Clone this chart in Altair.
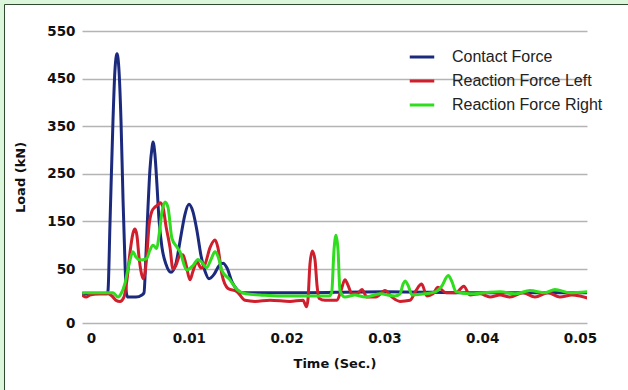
import altair as alt
import pandas as pd

# time in milliseconds, load in kN
contact_force = [(-0.9, 27), (0.92, 27), (1.64, 27), (1.74, 30), (1.94, 144), (2.25, 363), (2.45, 468),
                 (2.66, 502), (2.86, 468), (3.07, 360), (3.27, 200), (3.48, 60), (3.63, 27), (3.78, 24),
                 (4.6, 24), (5.21, 26), (5.42, 28), (5.62, 80), (5.83, 180), (6.03, 260), (6.24, 305),
                 (6.34, 317), (6.54, 290), (6.75, 225), (6.95, 155), (7.26, 95), (7.67, 60), (8.18, 47),
                 (8.69, 62), (9.2, 120), (9.61, 165), (10.02, 186), (10.43, 170), (10.84, 130), (11.25, 78),
                 (11.66, 48), (12.07, 41), (12.58, 45), (13.09, 57), (13.5, 62), (13.91, 52), (14.42, 38),
                 (14.93, 31), (15.44, 28), (20.0, 28), (30.0, 29), (40.0, 28), (50.8, 28)]

reaction_left = [(-0.9, 26), (-0.5, 24), (-0.1, 26), (0.92, 27), (1.74, 27), (2.15, 25), (2.56, 21),
                 (2.97, 20), (3.37, 24), (3.68, 40), (3.99, 85), (4.29, 125), (4.5, 134), (4.7, 120),
                 (4.91, 75), (5.11, 48), (5.32, 41), (5.52, 46), (5.73, 85), (5.93, 140), (6.24, 172),
                 (6.54, 180), (6.85, 185), (7.06, 189), (7.36, 180), (7.67, 140), (8.08, 95), (8.38, 50),
                 (8.69, 58), (9.1, 79), (9.41, 80), (9.71, 60), (10.12, 40), (10.43, 48), (10.84, 65),
                 (11.25, 52), (11.66, 60), (12.17, 95), (12.68, 111), (12.98, 95), (13.39, 45), (14.01, 32),
                 (14.93, 29), (15.75, 21), (16.77, 20), (18.3, 21), (20.35, 20), (21.68, 21), (22.04, 15),
                 (22.19, 22), (22.39, 60), (22.63, 88), (22.9, 70), (23.11, 35), (23.31, 23), (23.93, 21),
                 (25.15, 21), (25.56, 30), (25.97, 40), (26.28, 35), (26.69, 27), (27.2, 27), (27.71, 31),
                 (28.22, 24), (29.14, 24), (30.06, 30), (30.78, 24), (31.6, 20), (32.62, 21), (33.23, 30),
                 (33.81, 36), (34.36, 25), (34.97, 27), (35.48, 33), (36.3, 28), (37.32, 28), (38.12, 34),
                 (38.75, 26), (39.78, 27), (40.8, 24), (41.82, 26), (42.84, 24), (44.17, 28), (45.4, 24),
                 (46.73, 28), (47.95, 24), (49.18, 26), (50.0, 25), (50.8, 23)]

reaction_right = [(-0.9, 28), (1.64, 28), (2.25, 28), (2.76, 24), (3.07, 27), (3.48, 37), (3.89, 60),
                  (4.29, 86), (4.6, 75), (5.01, 69), (5.69, 72), (6.03, 90), (6.34, 100), (6.72, 93),
                  (6.95, 120), (7.26, 170), (7.57, 191), (7.87, 180), (8.28, 114), (8.76, 97), (9.1, 86),
                  (9.79, 49), (10.46, 58), (10.94, 70), (11.25, 66), (11.83, 53), (12.27, 70), (12.68, 86),
                  (13.09, 70), (13.36, 49), (14.21, 40), (14.93, 31), (15.85, 27), (17.28, 26), (19.33, 25),
                  (21.37, 25), (23.42, 25), (24.34, 25), (24.61, 28), (24.85, 90), (25.05, 121), (25.26, 90),
                  (25.46, 30), (25.97, 24), (26.99, 26), (28.02, 24), (29.55, 27), (31.08, 25), (31.6, 27),
                  (31.91, 36), (32.11, 39), (32.42, 35), (32.83, 26), (34.15, 27), (35.27, 29), (35.86, 34),
                  (36.53, 44), (36.92, 38), (37.32, 29), (38.75, 27), (40.29, 28), (41.82, 29), (43.35, 27),
                  (44.89, 30), (46.42, 28), (47.44, 31), (48.98, 28), (50.8, 29)]

series_names = ["Contact Force", "Reaction Force Left", "Reaction Force Right"]
series_colors = ["#1c2a7e", "#d01f2c", "#2fdc1e"]
y_ticks = [0, 50, 150, 250, 350, 450, 550]
x_ticks = [0, 0.01, 0.02, 0.03, 0.04, 0.05]

rows = []
for name, pts in zip(series_names, [contact_force, reaction_left, reaction_right]):
    for t_ms, v in pts:
        rows.append({"series": name, "t": t_ms / 1000.0, "load": v})
df = pd.DataFrame(rows)

W, H = 505, 292
AXFONT = "DejaVu Sans"
LEGFONT = "Liberation Sans"

lines = alt.Chart(df).mark_line(strokeWidth=3, interpolate="monotone", clip=True).encode(
    x=alt.X("t:Q", scale=alt.Scale(domain=[-0.00092, 0.05072], nice=False, zero=False),
            axis=alt.Axis(values=x_ticks, format=".2~f", title="Time (Sec.)", grid=False,
                          domain=False, ticks=False, labelPadding=8, titlePadding=13)),
    y=alt.Y("load:Q", scale=alt.Scale(domain=[0, 50, 550], range=[H, H - 54, 0], nice=False, zero=False),
            axis=alt.Axis(values=y_ticks, title="Load (kN)", grid=True, domain=False, ticks=False,
                          labelPadding=7, titlePadding=19)),
    color=alt.Color("series:N", scale=alt.Scale(domain=series_names, range=series_colors),
                    legend=alt.Legend(title=None, orient="none", legendX=326, legendY=12,
                                      symbolType="stroke", symbolSize=600, symbolStrokeWidth=3,
                                      labelFontSize=16, labelFont=LEGFONT, labelColor="#222222",
                                      labelOffset=16, rowPadding=2)),
)

one = pd.DataFrame({"a": [0]})
strip_top = alt.Chart(one).mark_rect(color="#dcf6dc").encode(
    x=alt.value(-82), x2=alt.value(546), y=alt.value(-31), y2=alt.value(-27))
strip_left = alt.Chart(one).mark_rect(color="#dcf6dc").encode(
    x=alt.value(-82), x2=alt.value(-77.5), y=alt.value(-31), y2=alt.value(359))
line_top = alt.Chart(one).mark_rule(color="#2f4a2f", strokeWidth=1).encode(
    x=alt.value(-77.5), x2=alt.value(546), y=alt.value(-26.5))
line_left = alt.Chart(one).mark_rule(color="#2f4a2f", strokeWidth=1).encode(
    x=alt.value(-77.5), y=alt.value(-26.5), y2=alt.value(359))

chart = alt.layer(strip_top, strip_left, line_top, line_left, lines).properties(
    width=W, height=H,
    autosize=alt.AutoSizeParams(type="none"),
    padding={"left": 82, "top": 31, "right": 41, "bottom": 67},
    background="white",
).configure_view(strokeWidth=0).configure_axis(
    labelFont=AXFONT, labelFontSize=13.5, labelFontWeight="bold", labelColor="#111111",
    titleFont=AXFONT, titleFontSize=13, titleFontWeight="bold", titleColor="#111111",
    gridColor="#b4b4b4", gridWidth=1.5,
)

chart.save("out.html", embed_options={"renderer": "svg", "actions": False})
